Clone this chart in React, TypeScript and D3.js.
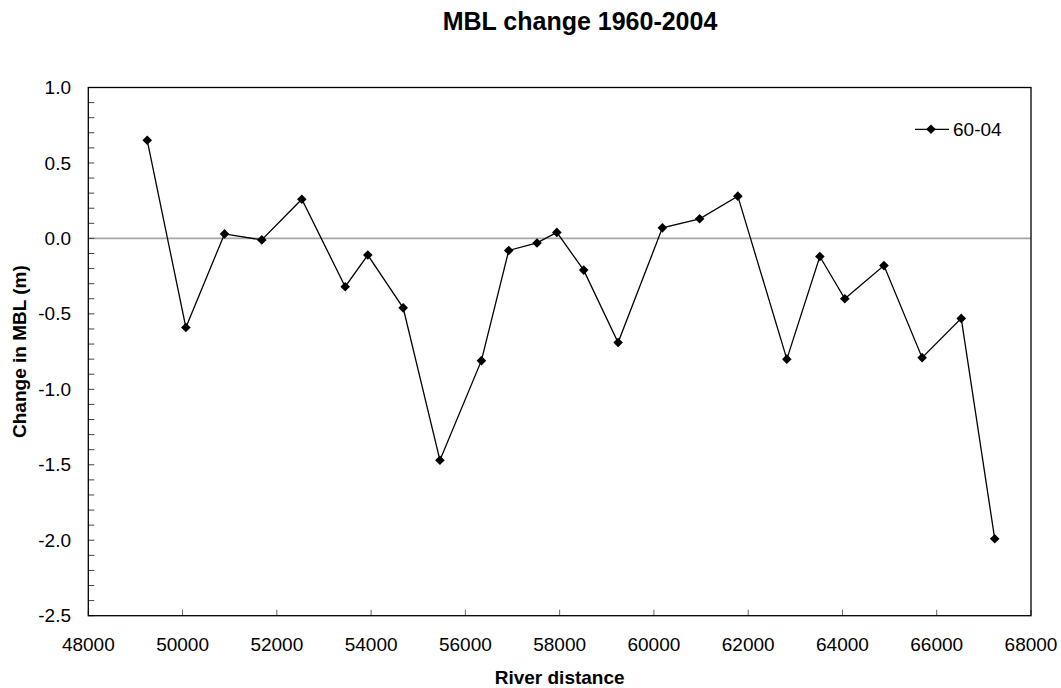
import React from "react";
import * as d3 from "d3";

// River distance (m) and change in mean bed level (m), 1960 to 2004
const distances = [
  49250, 50070, 50890, 51680, 52530, 53450, 53930, 54680, 55460, 56340,
  56920, 57520, 57940, 58510, 59240, 60180, 60970, 61780, 62820, 63520,
  64050, 64880, 65690, 66520, 67230,
];
const mblChange = [
  0.65, -0.59, 0.03, -0.01, 0.26, -0.32, -0.11, -0.46, -1.47, -0.81,
  -0.08, -0.03, 0.04, -0.21, -0.69, 0.07, 0.13, 0.28, -0.8, -0.12,
  -0.4, -0.18, -0.79, -0.53, -1.99,
];
const xTicks = [48000, 50000, 52000, 54000, 56000, 58000, 60000, 62000, 64000, 66000, 68000];
const yTicks = [1.0, 0.5, 0.0, -0.5, -1.0, -1.5, -2.0, -2.5];
const seriesName = "60-04";

const W = 1061;
const H = 688;
const left = 88.3;
const right = 1031;
const top = 87.5;
const bottom = 615.7;
const font = "'Liberation Sans', Arial, sans-serif";

export default function App() {
  const x = d3.scaleLinear().domain([48000, 68000]).range([left, right]);
  const y = d3.scaleLinear().domain([-2.5, 1.0]).range([bottom, top]);
  const pts = distances.map((d, i) => [d, mblChange[i]] as [number, number]);
  const line = d3
    .line<[number, number]>()
    .x((d) => x(d[0]))
    .y((d) => y(d[1]));
  const minorTicks = d3.range(-25, 11).map((v) => v / 10);
  const r = 4.8;
  const diamond = `M0,${-r}L${r},0L0,${r}L${-r},0Z`;

  return (
    <svg
      width={W}
      height={H}
      style={{ position: "absolute", left: 0, top: 0, background: "#fff" }}
      fontFamily={font}
    >
      <rect x={0} y={0} width={W} height={H} fill="#fff" />
      {/* title */}
      <text x={580} y={29.5} textAnchor="middle" fontSize={25} fontWeight="bold" fill="#000">
        MBL change 1960-2004
      </text>

      {/* zero reference line */}
      <line x1={left} x2={right} y1={y(0)} y2={y(0)} stroke="#a6a6a6" strokeWidth={1.6} />

      {/* y ticks (minor every 0.1) */}
      {minorTicks.map((t) => (
        <line key={"m" + t} x1={left} x2={left + 6} y1={y(t)} y2={y(t)} stroke="#444" strokeWidth={1} />
      ))}
      {yTicks.map((t) => (
        <text key={"yl" + t} x={71} y={y(t) + 6.6} textAnchor="end" fontSize={19} fill="#000">
          {t.toFixed(1)}
        </text>
      ))}

      {/* x ticks */}
      {xTicks.map((t) => (
        <line key={"xt" + t} x1={x(t)} x2={x(t)} y1={bottom} y2={bottom - 6} stroke="#666" strokeWidth={1} />
      ))}
      {xTicks.map((t) => (
        <text key={"xl" + t} x={x(t)} y={650.7} textAnchor="middle" fontSize={19} fill="#000">
          {t}
        </text>
      ))}

      {/* plot frame */}
      <rect x={left} y={top} width={right - left} height={bottom - top} fill="none" stroke="#000" strokeWidth={1.3} />

      {/* series */}
      <path d={line(pts) || ""} fill="none" stroke="#000" strokeWidth={1.3} />
      {pts.map((p, i) => (
        <path key={"p" + i} d={diamond} transform={`translate(${x(p[0])},${y(p[1])})`} fill="#000" />
      ))}

      {/* legend */}
      <line x1={915} x2={949} y1={129.3} y2={129.3} stroke="#000" strokeWidth={1.3} />
      <path d={diamond} transform="translate(931,129.3)" fill="#000" />
      <text x={953} y={136} fontSize={19} fill="#000">
        {seriesName}
      </text>

      {/* axis titles */}
      <text x={(left + right) / 2} y={684} textAnchor="middle" fontSize={19} fontWeight="bold" fill="#000">
        River distance
      </text>
      <text
        transform={`translate(26,${(top + bottom) / 2}) rotate(-90)`}
        textAnchor="middle"
        fontSize={19}
        fontWeight="bold"
        fill="#000"
      >
        Change in MBL (m)
      </text>
    </svg>
  );
}
